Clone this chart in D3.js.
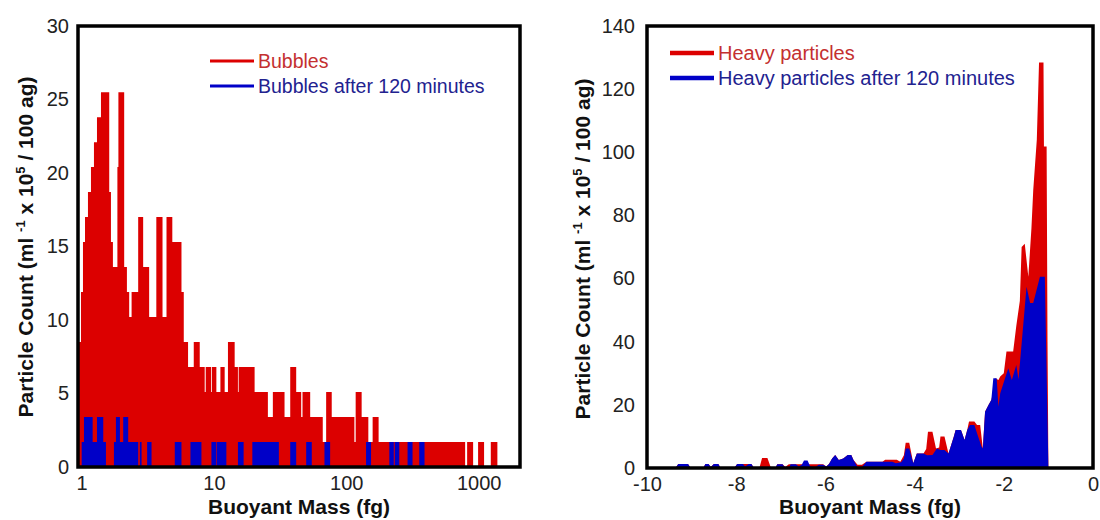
<!DOCTYPE html>
<html><head><meta charset="utf-8">
<script src="https://cdn.jsdelivr.net/npm/d3@7"></script>
<style>
body{margin:0;background:#fff;}
svg{display:block;font-family:"Liberation Sans",Arial,Helvetica,sans-serif;}
</style>
</head><body>
<svg id="chart" width="1100" height="520"></svg>
<script>
// ---------- Left panel: bubbles (log-binned histogram, fg) ----------
const bubbleEdges = [0.941,0.991,1.026,1.063,1.119,1.179,1.242,1.309,1.403,1.620,1.669,1.727,1.867,1.900,2.101,2.203,2.292,2.390,2.680,2.922,3.243,3.674,4.092,4.386,4.852,5.690,5.922,6.380,7.045,7.817,8.523,8.673,9.543,9.676,10.44,11.20,12.06,12.77,14.35,15.19,15.38,20.30,25.57,27.88,34.16,37.72,41.84,45.64,46.69,53.36,66.41,70.44,77.62,115.1,117.7,130.6,146.7,158.1,175.4,789.9,817.8,907.5,989.6,1098,1234,1384,2051];
const bubbleCounts = [8.5,11.9,15.3,17,18.7,20.4,22.1,23.8,25.5,18.7,15.3,13.6,20.4,25.5,13.6,11.9,10.2,11.9,17,13.6,10.2,17,10.2,17,15.3,11.9,8.5,6.8,8.5,6.8,5.1,6.8,5.1,6.8,5.1,6.8,5.1,8.5,6.8,5.1,6.8,5.1,3.4,5.1,3.4,6.8,5.1,3.4,5.1,3.4,1.7,5.1,3.4,1.7,5.1,3.4,1.7,3.4,1.7,0,1.7,0,1.7,0,1.7,0];
const bubbleAfterEdges = [0.941,1.003,1.044,1.214,1.309,1.460,1.530,1.758,1.820,1.951,2.065,2.253,2.680,2.760,2.843,3.132,3.381,5.065,5.690,6.652,8.052,9.576,10.44,10.55,12.42,15.19,16.77,19.51,30.95,37.72,41.84,49.78,54.86,68.40,75.49,141.0,153.8,211.3,228.4,232.4,251.3,290.2,316.5,355.6,389.8,2051];
const bubbleAfterCounts = [0,1.7,3.4,1.7,3.4,1.7,0,1.7,3.4,1.7,3.4,1.7,0,1.7,0,1.7,0,1.7,0,1.7,0,1.7,0,1.7,0,1.7,0,1.7,0,1.7,0,1.7,0,1.7,0,1.7,0,1.7,0,1.7,0,1.7,0,1.7,0];
const leftXDomain = [0.941, 2051];
const leftYDomain = [0, 30];
const leftXTicks = [1, 10, 100, 1000];
const leftYTicks = [0, 5, 10, 15, 20, 25, 30];
const leftLegend = ["Bubbles", "Bubbles after 120 minutes"];

// ---------- Right panel: heavy particles (linear) ----------
const heavyX = [-10,-9.36,-9.3,-9.08,-9.02,-8.74,-8.69,-8.62,-8.57,-8.5,-8.4,-8.35,-8.04,-7.98,-7.66,-7.6,-7.48,-7.42,-7.3,-7.22,-7.12,-7.08,-6.96,-6.9,-6.82,-6.42,-6.36,-6.05,-5.98,-5.92,-5.85,-5.78,-5.7,-5.6,-5.5,-5.42,-5.37,-5.28,-5.18,-5.08,-4.72,-4.66,-4.4,-4.32,-4.24,-4.2,-4.12,-4.03,-3.95,-3.8,-3.74,-3.7,-3.6,-3.52,-3.45,-3.42,-3.33,-3.24,-3.12,-3.08,-2.96,-2.88,-2.82,-2.78,-2.66,-2.6,-2.53,-2.47,-2.42,-2.34,-2.28,-2.22,-2.19,-2.12,-2.08,-2.0,-1.94,-1.79,-1.72,-1.64,-1.6,-1.53,-1.45,-1.38,-1.34,-1.26,-1.21,-1.11,-1.1,-1.04,-1.02,-1.0,0];
const heavyY = [0,0,1.3,1.3,0,0,1.3,1.3,0.3,1.3,1.3,0,0,1.3,1.3,0,0,3.2,3.2,0,0,1.2,1.2,0.3,1.2,1.2,1.2,1.2,0.5,1.3,3,4.1,2.5,3,4.1,4.1,2.5,1,1,2,2,2.6,2.6,2,4,8,8,1.5,4.6,4.6,6,11.5,11.5,6.2,6.5,10,10,4.6,10,12,12,8.9,12,14.7,14.7,13.6,13.6,6.2,17.8,20,21.5,25,28.4,27.9,29,30,36.9,36.9,45,53,70,71,60.6,76,88,104,128.4,128.4,101.8,101.8,40,0,0];
const heavyAfterX = [-10,-9.36,-9.3,-9.08,-9.02,-8.74,-8.69,-8.62,-8.57,-8.5,-8.4,-8.35,-8.04,-7.98,-7.85,-7.8,-7.72,-7.66,-7.6,-7.12,-7.08,-6.96,-6.9,-6.82,-6.78,-6.66,-6.6,-6.53,-6.48,-6.4,-6.34,-6.22,-6.15,-6.05,-5.98,-5.92,-5.85,-5.78,-5.7,-5.6,-5.5,-5.42,-5.37,-5.28,-5.18,-5.08,-4.5,-4.42,-4.3,-4.24,-4.2,-4.12,-4.03,-3.95,-3.8,-3.72,-3.6,-3.5,-3.42,-3.33,-3.24,-3.12,-3.08,-2.96,-2.88,-2.82,-2.76,-2.66,-2.6,-2.5,-2.47,-2.42,-2.34,-2.28,-2.235,-2.16,-2.12,-2.08,-1.9,-1.82,-1.72,-1.67,-1.49,-1.41,-1.34,-1.19,-1.08,-1.0,0];
const heavyAfterY = [0,0,1.3,1.3,0,0,1.3,1.3,0.3,1.3,1.3,0,0,1.3,1.3,0.5,1.3,1.3,0,0,1.2,1.2,0,0,1.2,1.2,0.5,1,2.4,2.4,0.5,0.3,1,1,0.5,1.3,3,4.1,2.5,3,4.1,4.1,2.5,0.3,0.3,2,2,1.5,1.8,3,6.2,6.2,1.5,4.6,4.6,4,4.1,6.2,5.7,5.7,4.6,10,12,12,8.9,12,13.6,13.6,11,6.8,6.2,17.8,20,21.5,28.4,28.4,19.4,23.7,31.6,27.9,32.6,28,57.4,52.3,52.3,60.6,60.6,0,0];
const rightXDomain = [-10, 0];
const rightYDomain = [0, 140];
const rightXTicks = [-10, -8, -6, -4, -2, 0];
const rightYTicks = [0, 20, 40, 60, 80, 100, 120, 140];
const rightLegend = ["Heavy particles", "Heavy particles after 120 minutes"];

const xTitle = "Buoyant Mass (fg)";
const yTitleParts = [["Particle Count (ml ", false], ["-1", true], [" x 10", false], ["5", true], [" / 100 ag)", false]];

const RED = "#dc0000", BLUE = "#0000c8";
const RED_TXT = "#c43030", BLUE_TXT = "#22228f";
const TICK_COL = "#222";

const svg = d3.select("#chart");
const plainFmt = d => String(d);

function panel(x0, x1, y0, y1, id) {
  const g = svg.append("g");
  g.append("clipPath").attr("id", id).append("rect")
    .attr("x", x0).attr("y", y0).attr("width", x1 - x0).attr("height", y1 - y0);
  const plot = g.append("g").attr("clip-path", `url(#${id})`);
  return {g, plot};
}

function yTitle(g, cx, cy) {
  const t = g.append("text")
    .attr("transform", `translate(${cx},${cy}) rotate(-90)`)
    .attr("text-anchor", "middle")
    .attr("font-size", 21).attr("font-weight", "bold").attr("fill", "#111");
  yTitleParts.forEach(([s, sup], i) => {
    const ts = t.append("tspan").text(s);
    if (sup) ts.attr("font-size", 13).attr("dy", -8);
    else if (i > 0 && yTitleParts[i-1][1]) ts.attr("dy", 8);
  });
}

function axes(g, xScale, yScale, xTicks, yTicks, yBottom, xLeft, yPad) {
  const xa = g.append("g").attr("transform", `translate(0,${yBottom})`)
    .call(d3.axisBottom(xScale).tickValues(xTicks).tickSize(0).tickPadding(5).tickFormat(plainFmt));
  xa.select(".domain").remove();
  xa.selectAll("text").attr("font-size", 20).attr("fill", TICK_COL)
    .attr("font-family", '"Liberation Sans",Arial,sans-serif').attr("dy", "0.9em");
  const ya = g.append("g").attr("transform", `translate(${xLeft},0)`)
    .call(d3.axisLeft(yScale).tickValues(yTicks).tickSize(0).tickPadding(yPad).tickFormat(plainFmt));
  ya.select(".domain").remove();
  ya.selectAll("text").attr("font-size", 20).attr("fill", TICK_COL)
    .attr("font-family", '"Liberation Sans",Arial,sans-serif');
}

function legend(g, x, y, labels, lw, sw, fs) {
  const cols = [[RED, RED_TXT], [BLUE, BLUE_TXT]];
  labels.forEach((lab, i) => {
    const yy = y + i * 25;
    g.append("line").attr("x1", x).attr("x2", x + lw).attr("y1", yy).attr("y2", yy)
      .attr("stroke", cols[i][0]).attr("stroke-width", sw);
    g.append("text").attr("x", x + lw + 4).attr("y", yy).attr("dy", "0.35em")
      .attr("font-size", fs).attr("fill", cols[i][1]).text(lab);
  });
}

// ---------------- Left panel ----------------
{
  const x0 = 78, x1 = 520, y0 = 26, y1 = 467;
  const xs = d3.scaleLog().domain(leftXDomain).range([x0, x1]);
  const ys = d3.scaleLinear().domain(leftYDomain).range([y1, y0]);
  const {g, plot} = panel(x0, x1, y0, y1, "clipL");
  const area = d3.area().curve(d3.curveStepAfter)
    .x(d => xs(d[0])).y0(ys(0)).y1(d => ys(d[1]));
  const toPts = (edges, counts) => edges.map((e, i) => [e, counts[Math.min(i, counts.length - 1)]]);
  plot.append("path").datum(toPts(bubbleEdges, bubbleCounts)).attr("d", area).attr("fill", RED);
  plot.append("path").datum(toPts(bubbleAfterEdges, bubbleAfterCounts)).attr("d", area).attr("fill", BLUE);
  g.append("rect").attr("x", x0).attr("y", y0).attr("width", x1 - x0).attr("height", y1 - y0)
    .attr("fill", "none").attr("stroke", "#000").attr("stroke-width", 3.5);
  axes(g, xs, ys, leftXTicks, leftYTicks, y1, x0, 9);
  legend(g, 210, 61, leftLegend, 44, 3, 19.5);
  g.append("text").attr("x", (x0 + x1) / 2).attr("y", 514).attr("text-anchor", "middle")
    .attr("font-size", 21).attr("font-weight", "bold").attr("fill", "#111").text(xTitle);
  yTitle(g, 33, 247);
}

// ---------------- Right panel ----------------
{
  const x0 = 647, x1 = 1093, y0 = 26, y1 = 468;
  const xs = d3.scaleLinear().domain(rightXDomain).range([x0, x1]);
  const ys = d3.scaleLinear().domain(rightYDomain).range([y1, y0]);
  const {g, plot} = panel(x0, x1, y0, y1, "clipR");
  const area = d3.area().curve(d3.curveLinear)
    .x(d => xs(d[0])).y0(ys(0)).y1(d => ys(d[1]));
  plot.append("path").datum(d3.zip(heavyX, heavyY)).attr("d", area).attr("fill", RED);
  plot.append("path").datum(d3.zip(heavyAfterX, heavyAfterY)).attr("d", area).attr("fill", BLUE);
  g.append("rect").attr("x", x0).attr("y", y0).attr("width", x1 - x0).attr("height", y1 - y0)
    .attr("fill", "none").attr("stroke", "#000").attr("stroke-width", 3.5);
  axes(g, xs, ys, rightXTicks, rightYTicks, y1, x0, 12);
  legend(g, 670, 53, rightLegend, 44, 4.5, 20);
  g.append("text").attr("x", (x0 + x1) / 2).attr("y", 514).attr("text-anchor", "middle")
    .attr("font-size", 21).attr("font-weight", "bold").attr("fill", "#111").text(xTitle);
  yTitle(g, 590, 249);
}
</script>
</body></html>
